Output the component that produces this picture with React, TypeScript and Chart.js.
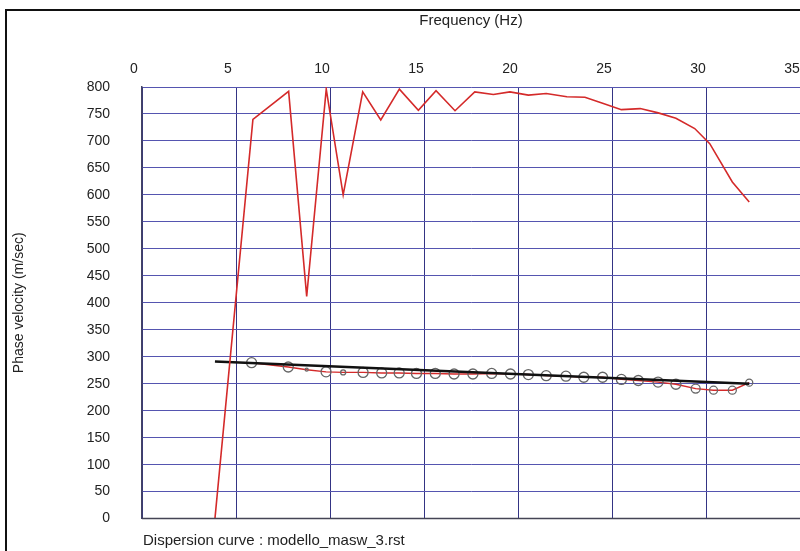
import React, { useEffect, useRef } from "react";
import { Chart, registerables } from "chart.js";

Chart.register(...registerables);

// Top (red) curve: frequency (Hz) and phase velocity (m/sec)
const topFreq = [3.88, 5.9, 7.8, 8.76, 9.8, 10.7, 11.74, 12.7, 13.69, 14.7, 15.64, 16.65, 17.7, 18.69, 19.57, 20.55, 21.5, 22.6, 23.56, 24.5, 25.5, 26.5, 27.46, 28.4, 29.4, 30.2, 31.4, 32.3];
const topVel = [0, 740, 792, 412, 796, 600, 791, 739, 796, 757, 793, 756, 791, 786, 791, 785, 788, 782, 781, 770, 758, 760, 752, 742, 723, 695, 624, 587];

// Experimental dispersion points (circles)
const expFreq = [5.83, 7.78, 8.76, 9.79, 10.7, 11.76, 12.75, 13.68, 14.6, 15.6, 16.6, 17.6, 18.6, 19.6, 20.55, 21.5, 22.55, 23.5, 24.5, 25.5, 26.4, 27.45, 28.4, 29.45, 30.4, 31.4, 32.3];
const expVel = [289, 281, 276, 272, 271, 271, 270, 270, 269, 269, 268, 268, 269, 268, 267, 265, 264, 262, 262, 258, 256, 253, 249, 241, 238, 238, 252];
const expSize = [5, 5, 1.5, 5, 2.5, 5, 5, 5, 5, 5, 5, 5, 5, 5, 5, 5, 5, 5, 5, 5, 5, 5, 5, 4.5, 4, 4, 3.5];

// Fitted (black) line
const fitFreq = [3.88, 32.3];
const fitVel = [291, 250];

const xTicks = [0, 5, 10, 15, 20, 25, 30, 35];

const FONT = "'Liberation Sans', Arial, sans-serif";

export default function App() {
  const ref = useRef<HTMLCanvasElement | null>(null);

  useEffect(() => {
    if (!ref.current) return;
    const chart = new Chart(ref.current, {
      type: "scatter",
      data: {
        datasets: [
          {
            data: topFreq.map((f, i) => ({ x: f, y: topVel[i] })),
            showLine: true,
            borderColor: "#d42a2a",
            borderWidth: 1.6,
            pointRadius: 0,
            tension: 0,
          },
          {
            data: fitFreq.map((f, i) => ({ x: f, y: fitVel[i] })),
            showLine: true,
            borderColor: "#111111",
            borderWidth: 2.5,
            pointRadius: 0,
          },
          {
            data: expFreq.map((f, i) => ({ x: f, y: expVel[i] })),
            showLine: true,
            borderColor: "#d42a2a",
            borderWidth: 1.4,
            pointRadius: expSize,
            pointBorderColor: "#666666",
            pointBorderWidth: 1.3,
            pointBackgroundColor: "rgba(0,0,0,0)",
          },
        ],
      },
      options: {
        animation: false,
        responsive: false,
        layout: { padding: { left: 0, right: 30, top: 0, bottom: 25 } },
        plugins: { legend: { display: false }, tooltip: { enabled: false } },
        scales: {
          x: {
            type: "linear",
            position: "top",
            min: 0,
            max: 35,
            afterBuildTicks: (s: any) => {
              s.ticks = xTicks.map((v) => ({ value: v }));
            },
            afterFit: (s: any) => {
              s.height = 87;
            },
            grid: { color: "#343484", lineWidth: 1, drawTicks: false },
            border: { display: false },
            ticks: {
              color: "#222",
              font: { family: FONT, size: 14 },
              padding: 9,
              labelOffset: -8,
              maxRotation: 0,
            },
            title: {
              display: true,
              text: "Frequency (Hz)",
              color: "#222",
              font: { family: FONT, size: 15 },
              padding: { top: 12, bottom: 0 },
            },
          },
          y: {
            type: "linear",
            min: 0,
            max: 800,
            afterFit: (s: any) => {
              s.width = 142;
            },
            grid: { color: "#5555b0", lineWidth: 1, drawTicks: false },
            border: { display: true, color: "#444466", width: 1.5 },
            ticks: {
              stepSize: 50,
              color: "#222",
              font: { family: FONT, size: 14 },
              padding: 32,
            },
            title: {
              display: true,
              text: "Phase velocity (m/sec)",
              color: "#222",
              font: { family: FONT, size: 14 },
              padding: { top: 11, bottom: 0 },
            },
          },
        },
      },
      plugins: [
        {
          id: "bottomLine",
          afterDraw(c: any) {
            const { ctx, chartArea } = c;
            ctx.save();
            ctx.strokeStyle = "#444455";
            ctx.lineWidth = 1.5;
            ctx.beginPath();
            ctx.moveTo(chartArea.left, chartArea.bottom);
            ctx.lineTo(chartArea.right, chartArea.bottom);
            ctx.stroke();
            ctx.restore();
          },
        },
      ],
    });
    return () => chart.destroy();
  }, []);

  return (
    <div
      style={{
        position: "absolute",
        left: 0,
        top: 0,
        width: 800,
        height: 551,
        overflow: "hidden",
        background: "#fff",
      }}
    >
      <canvas ref={ref} width={830} height={559} style={{ display: "block" }} />
      <div
        style={{
          position: "absolute",
          left: 5,
          top: 9,
          width: 820,
          height: 560,
          borderLeft: "2px solid #111",
          borderTop: "2px solid #111",
          pointerEvents: "none",
        }}
      />
      <div
        style={{
          position: "absolute",
          left: 143,
          top: 531,
          fontFamily: FONT,
          fontSize: 15,
          color: "#222",
          whiteSpace: "nowrap",
        }}
      >
        Dispersion curve : modello_masw_3.rst
      </div>
    </div>
  );
}
